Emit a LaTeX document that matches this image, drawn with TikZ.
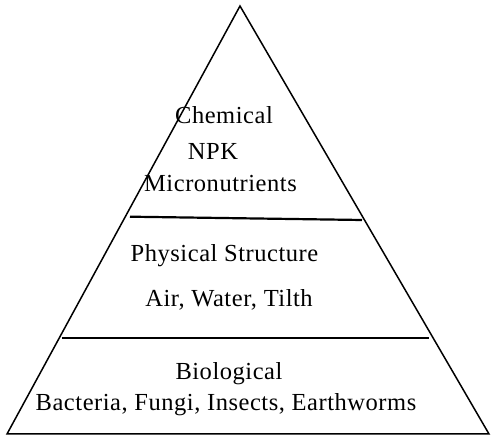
\documentclass[tikz,border=0pt]{standalone}
\usepackage{fontspec}
\setmainfont[LetterSpace=2.2]{Liberation Serif}
\begin{document}
\begin{tikzpicture}[x=1pt,y=1pt,
  lbl/.style={anchor=base,inner sep=0pt,font=\fontsize{24.5}{29}\selectfont},
  edge/.style={line width=1.5pt,line join=miter},
  sep/.style={line width=2.2pt}]
\useasboundingbox (0,0) rectangle (491,436);
\coordinate (apex) at (240,430);
\coordinate (bl) at (7,2);
\coordinate (br) at (489,2);
\draw[edge] (apex) -- (br) -- (bl) -- cycle;
\coordinate (u1) at (130,219.3);
\coordinate (u2) at (362,216);
\coordinate (l1) at (62,98);
\coordinate (l2) at (429,98);
\draw[sep] (u1) -- (u2);
\draw[sep] (l1) -- (l2);
\node[lbl] (chem) at (224,312) {Chemical};
\node[lbl] (npk) at (213,276) {NPK};
\node[lbl] (micro) at (220.5,244) {Micronutrients};
\node[lbl] (phys) at (224.5,174) {Physical Structure};
\node[lbl] (air) at (229,129) {Air, Water, Tilth};
\node[lbl] (bio) at (229,56) {Biological};
\node[lbl] (bact) at (226,25) {Bacteria, Fungi, Insects, Earthworms};
\end{tikzpicture}
\end{document}
